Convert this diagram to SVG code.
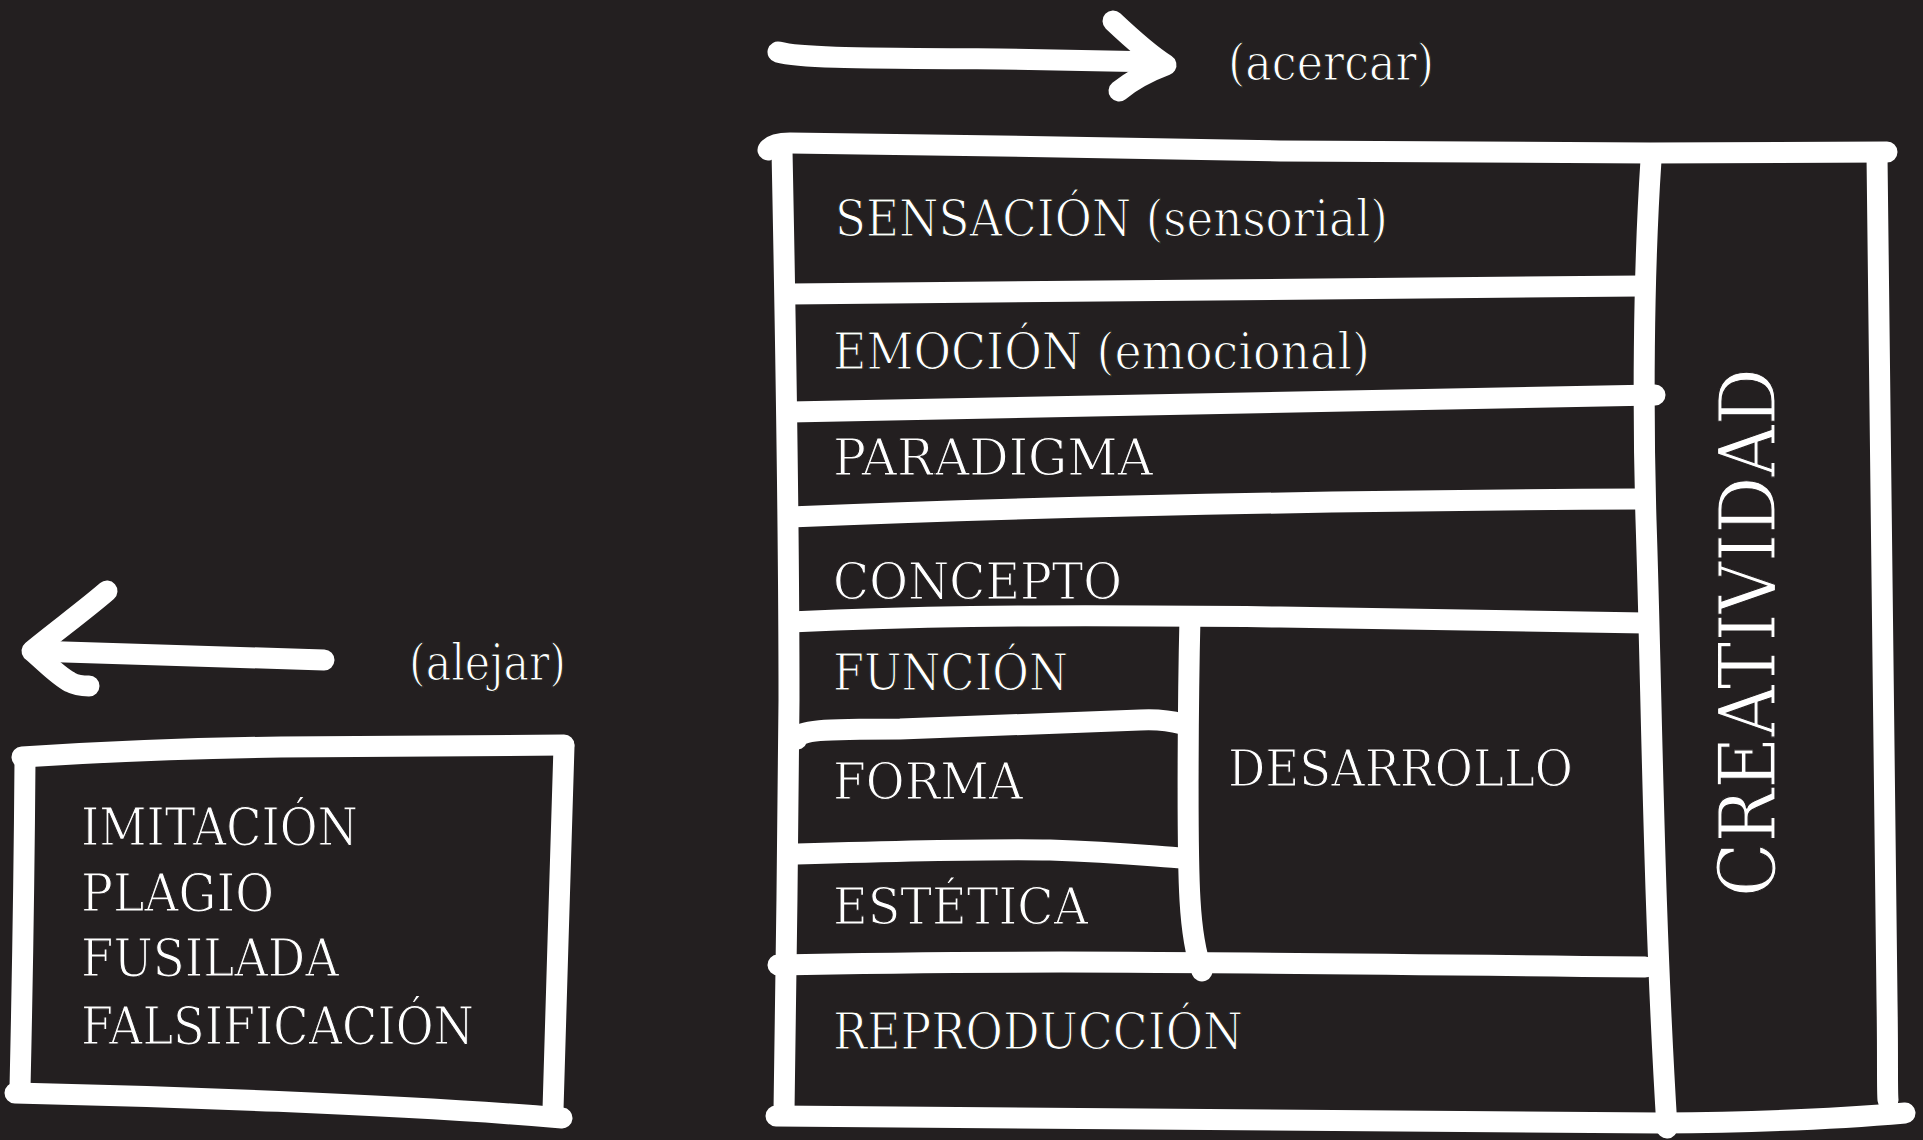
<svg xmlns="http://www.w3.org/2000/svg" width="1923" height="1140" viewBox="0 0 1923 1140">
  <style>
    .ln { fill: none; stroke: #ffffff; stroke-width: 21; stroke-linecap: round; stroke-linejoin: round; }
    .t { font-family: "DejaVu Serif", "Liberation Serif", serif; fill: #ffffff; stroke: #231f20; stroke-width: 1.2; }
    .m { font-size: 50px; }
    .l { font-size: 52px; }
    .p { font-size: 50px; }
    .c { font-size: 78px; }
  </style>
  <rect x="0" y="0" width="1923" height="1140" fill="#231f20"/>

  <g id="connectors">
    <g id="arrow-acercar">
      <path class="ln" d="M778,52 C800,58 850,58 1000,59 L1160,62"/>
      <path class="ln" d="M1113,21 C1130,37 1150,55 1166,65 C1150,71 1135,78 1119,91"/>
    </g>
    <g id="arrow-alejar">
      <path class="ln" d="M324,660 C250,658 150,655 33,651"/>
      <path class="ln" d="M107,591 C85,610 55,632 32,651 C45,662 58,676 70,682 C77,686 83,686 89,686"/>
    </g>
  </g>

  <g id="frame">
    <path class="ln" d="M768,150 Q772,143 790,143 L1000,146 L1280,151 L1650,153 L1887,152"/>
    <path class="ln" d="M782,150 C785,300 789,500 789,700 C788,850 786,960 784,1112"/>
    <path class="ln" d="M1877,155 C1880,400 1885,700 1887,1000 C1888,1060 1887,1090 1888,1100"/>
    <path class="ln" d="M776,1116 C1000,1119 1300,1121 1660,1123 C1780,1122 1860,1117 1905,1113"/>
    <path class="ln" d="M1651,160 C1643,280 1643,420 1646,520 C1652,700 1653,900 1667,1128"/>
    <path class="ln" d="M790,294 C1000,292 1280,290 1640,286"/>
    <path class="ln" d="M790,412 C1000,408 1280,403 1655,395"/>
    <path class="ln" d="M790,517 C1000,508 1280,501 1640,499"/>
    <path class="ln" d="M790,622 C900,617 1000,614 1280,617 C1450,619 1550,621 1645,623"/>
    <path class="ln" d="M797,739 C800,730 820,729 900,729 C1000,726 1100,722 1140,720 C1160,719 1175,722 1182,724"/>
    <path class="ln" d="M797,854 C900,851 990,849 1050,850 C1120,852 1160,857 1182,858"/>
    <path class="ln" d="M778,965 C1000,960 1200,962 1645,967"/>
    <path class="ln" d="M1190,617 C1188,700 1187,850 1190,900 C1192,935 1196,955 1202,971"/>
  </g>

  <g id="frame-left">
    <path class="ln" d="M22,757 C100,752 200,748 281,747 C400,746 500,745 564,745"/>
    <path class="ln" d="M564,746 C561,850 556,1000 553,1110"/>
    <path class="ln" d="M25,760 C24,900 22,1000 20,1088"/>
    <path class="ln" d="M15,1093 C150,1096 400,1104 562,1118"/>
  </g>

  <g id="label-acercar"><text class="t p" x="1228" y="80" textLength="206" lengthAdjust="spacingAndGlyphs">(acercar)</text></g>
  <g id="label-alejar"><text class="t p" x="409" y="680" textLength="157" lengthAdjust="spacingAndGlyphs">(alejar)</text></g>

  <g id="node-sensacion"><text class="t m" x="835" y="236" textLength="553" lengthAdjust="spacingAndGlyphs">SENSACIÓN (sensorial)</text></g>
  <g id="node-emocion"><text class="t m" x="833" y="369" textLength="537" lengthAdjust="spacingAndGlyphs">EMOCIÓN (emocional)</text></g>
  <g id="node-paradigma"><text class="t m" x="833" y="475" textLength="320" lengthAdjust="spacingAndGlyphs">PARADIGMA</text></g>
  <g id="node-concepto"><text class="t m" x="833" y="599" textLength="289" lengthAdjust="spacingAndGlyphs">CONCEPTO</text></g>
  <g id="node-funcion"><text class="t m" x="833" y="690" textLength="235" lengthAdjust="spacingAndGlyphs">FUNCIÓN</text></g>
  <g id="node-forma"><text class="t m" x="833" y="799" textLength="190" lengthAdjust="spacingAndGlyphs">FORMA</text></g>
  <g id="node-estetica"><text class="t m" x="833" y="924" textLength="255" lengthAdjust="spacingAndGlyphs">ESTÉTICA</text></g>
  <g id="node-reproduccion"><text class="t m" x="833" y="1049" textLength="410" lengthAdjust="spacingAndGlyphs">REPRODUCCIÓN</text></g>
  <g id="node-desarrollo"><text class="t m" x="1228" y="786" textLength="345" lengthAdjust="spacingAndGlyphs">DESARROLLO</text></g>
  <g id="node-creatividad"><text class="t c" transform="translate(1775,897) rotate(-90)" x="0" y="0" textLength="529" lengthAdjust="spacingAndGlyphs">CREATIVIDAD</text></g>

  <g id="node-copia">
    <text class="t l" x="81" y="845" textLength="277" lengthAdjust="spacingAndGlyphs">IMITACIÓN</text>
    <text class="t l" x="81" y="911" textLength="193" lengthAdjust="spacingAndGlyphs">PLAGIO</text>
    <text class="t l" x="81" y="976" textLength="258" lengthAdjust="spacingAndGlyphs">FUSILADA</text>
    <text class="t l" x="81" y="1044" textLength="393" lengthAdjust="spacingAndGlyphs">FALSIFICACIÓN</text>
  </g>
</svg>
